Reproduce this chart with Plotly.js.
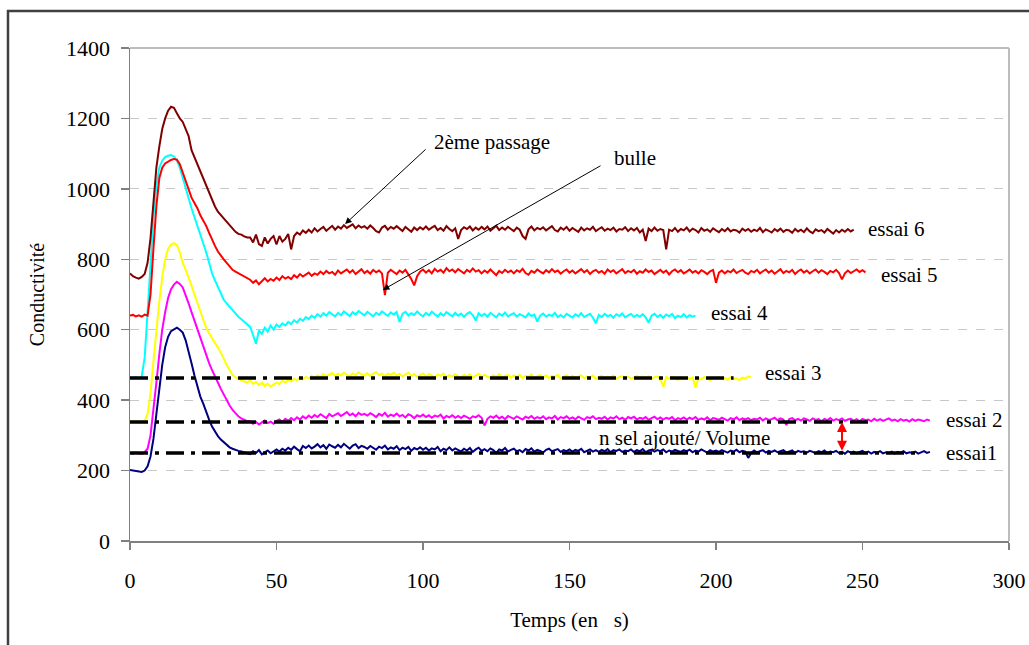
<!DOCTYPE html>
<html><head><meta charset="utf-8">
<script src="https://cdn.plot.ly/plotly-3.0.1.min.js"></script>
<style>html,body{margin:0;padding:0;background:#fff}#chart{width:1029px;height:645px}</style>
</head><body><div id="chart"></div>
<script>
// time step (s) of the sampled series; each series starts at t = 0
const STEP = 1;
const essai1 = [202,200,198,197,196,200,
212,240,290,360,430,500,550,580,596,602,606,600,592,570,540,
505,470,440,410,390,365,345,325,310,298,288,280,272,266,262,
258,256,254,252,250,
247,255,250,258,246,252,257,249,255,260,
254,262,257,265,259,268,261,255,270,264,
271,263,268,275,266,272,262,274,269,265,
273,266,276,268,262,271,275,264,270,267,
262,270,265,259,268,264,271,260,266,262,
269,258,265,261,267,256,264,260,266,259,
265,257,263,260,267,255,262,258,266,257,
263,259,254,262,257,264,253,260,265,256,
261,255,263,258,250,260,257,264,254,259,
262,255,258,252,261,257,263,254,259,256,
251,259,262,255,257,261,253,258,255,260,
254,259,256,262,252,257,260,254,258,253,
259,255,261,252,258,256,260,253,257,255,
260,253,258,255,261,252,257,259,254,258,
255,260,252,257,254,259,256,253,258,255,
259,252,257,254,260,255,251,258,254,257,
253,258,255,251,257,254,259,252,256,254,
236,250,257,252,255,258,251,256,253,257,
252,255,258,251,254,257,250,256,253,255,
251,256,253,249,255,252,257,250,254,252,
256,250,253,248,255,251,254,249,253,256,
250,254,248,253,251,255,249,252,250,254,
248,253,251,255,249,252,250,254,248,252,
255,250,253];
const essai2 = [250,248,251,249,247,252,
262,300,370,450,530,600,650,690,715,728,736,730,720,700,675,
650,625,600,575,550,525,505,485,465,450,432,415,400,385,372,
362,354,348,344,340,
340,333,338,331,337,342,335,339,333,341,
345,338,347,341,349,343,351,345,354,348,
356,350,358,352,360,355,349,361,354,358,
363,355,360,366,357,362,354,364,358,361,
356,363,358,352,361,356,364,353,359,355,
362,354,358,351,360,356,349,357,353,359,
352,357,350,356,353,359,348,355,351,357,
350,355,349,356,352,347,354,351,357,350,
328,347,354,350,356,348,353,346,355,351,
347,354,350,345,353,349,355,347,352,348,
354,346,351,348,355,345,352,349,354,347,
351,346,353,348,344,352,349,354,346,350,
347,353,345,351,348,354,346,350,344,352,
348,353,345,350,347,352,344,349,353,346,
351,345,350,347,352,343,349,346,351,345,
350,346,352,344,348,345,351,343,349,347,
344,350,346,342,349,345,351,343,348,345,
349,343,347,345,350,342,348,344,346,350,
343,348,345,329,346,349,343,347,342,348,
345,341,348,344,346,340,347,343,349,342,
346,343,348,341,345,347,342,346,340,347,
343,345,340,347,342,346,341,344,348,342,
345,340,346,342,344,339,346,341,345,343,
340,345,342];
const essai3 = [340,338,341,336,339,342,
360,420,510,600,680,750,800,830,842,846,840,820,790,770,750,
725,700,675,650,625,605,590,575,562,550,535,518,500,485,472,
465,460,456,453,450,
456,446,452,443,450,440,447,438,445,450,
446,455,450,458,453,461,456,464,459,466,
462,469,463,471,466,474,468,472,477,469,
475,470,478,472,468,476,471,479,473,470,
477,469,474,480,471,476,468,475,472,478,
470,475,467,473,478,469,474,466,472,476,
468,474,470,465,473,469,476,466,471,467,
474,468,465,472,467,473,464,470,475,466,
472,467,463,471,466,474,465,469,472,464,
470,466,472,463,469,467,473,462,468,471,
465,470,463,469,466,472,461,467,470,464,
469,463,468,471,462,467,465,470,460,466,
469,462,467,464,470,461,466,468,463,467,
461,466,469,462,467,463,468,460,465,467,
462,438,466,461,467,463,458,465,462,466,
460,465,435,463,459,466,461,457,464,460,
466,459,463,458,465,460,462,457,464,461,
467,465];
const essai4 = [465,463,466,462,468,
520,650,800,920,1010,1060,1080,1090,1094,1096,1092,1080,1060,1030,1000,970,
945,920,895,870,850,820,790,760,740,720,700,685,675,665,655,
645,637,630,622,615,
608,585,560,598,588,606,595,612,600,615,
608,618,612,622,616,627,620,631,625,636,
630,640,634,644,637,647,640,650,643,638,
648,641,652,645,639,650,643,653,646,641,
651,644,638,648,642,652,645,639,649,643,
650,622,645,651,640,647,642,652,644,638,
648,641,651,644,637,647,640,650,643,638,
648,640,646,636,645,650,641,626,647,639,
645,637,648,641,635,646,640,649,638,643,
647,637,644,640,635,646,639,643,623,640,
646,637,643,639,648,636,642,635,645,640,
635,644,638,647,636,641,645,634,618,642,
636,645,638,642,634,644,639,646,635,641,
645,636,642,637,644,635,620,640,645,636,
642,634,643,638,645,633,640,636,644,635,
641,637,640];
const essai5 = [640,642,638,641,637,643,640,
700,830,950,1030,1060,1072,1078,1082,1085,1083,1070,1045,1020,995,
975,960,945,925,910,895,875,855,838,822,810,800,790,780,770,
765,760,756,750,745,
742,733,740,729,738,746,737,744,739,748,
741,752,745,750,744,755,748,758,751,756,
762,753,760,756,765,758,767,760,764,756,
768,760,765,771,762,769,758,766,772,761,
767,759,770,763,768,760,698,762,770,764,
758,768,762,770,758,744,726,752,765,771,
762,769,760,773,765,770,762,775,766,771,
763,772,766,760,770,764,774,765,769,760,
768,762,771,764,755,767,761,770,763,768,
760,769,764,773,761,756,767,762,771,765,
760,769,763,772,764,768,759,766,771,762,
768,760,765,772,763,769,758,766,770,762,
767,759,771,764,769,760,766,772,761,767,
763,770,759,766,762,771,764,768,758,765,
770,762,768,757,766,771,763,769,760,765,
771,762,767,760,769,764,758,766,770,733,
762,768,760,767,763,771,761,766,770,762,
758,767,763,770,760,766,771,762,768,759,
766,772,761,767,763,770,758,766,771,762,
768,760,766,771,762,769,764,758,767,763,
770,761,743,760,768,761,766,771,764,769,
763];
const essai6 = [760,752,748,745,750,758,
790,860,960,1060,1120,1170,1200,1222,1233,1230,1215,1200,1190,1170,1150,
1110,1090,1065,1045,1025,1005,985,965,950,935,925,915,905,895,885,
878,872,870,865,862,
862,848,870,843,838,862,845,858,866,842,
866,850,858,872,828,866,876,870,882,875,
884,876,888,879,886,892,881,889,895,884,
893,887,897,889,894,899,888,896,890,894,
887,896,889,880,876,890,895,884,892,887,
894,886,880,892,885,878,890,883,891,885,
893,884,890,895,883,889,881,894,886,880,
888,858,883,891,886,893,882,890,884,892,
885,893,881,887,895,883,890,884,892,886,
880,890,884,866,858,885,893,882,889,885,
891,882,888,894,883,879,890,884,892,881,
889,883,878,890,882,888,884,892,880,886,
891,881,887,883,890,879,886,884,891,880,
888,882,889,876,884,852,887,880,890,881,
886,883,828,884,880,889,878,886,882,890,
879,887,883,876,889,881,885,878,888,882,
877,886,880,888,879,884,882,876,887,881,
886,878,884,880,889,877,885,881,876,886,
880,887,878,884,882,875,886,879,884,877,
888,879,874,885,880,883,876,886,879,873,
883,876,884,878,886,879,884];

const seriesNames = ['essai1','essai2','essai3','essai4','essai5','essai6'];
const seriesValues = [essai1, essai2, essai3, essai4, essai5, essai6];
const seriesColors = ['#000080','#FF00FF','#FFFF00','#00FFFF','#FF0000','#800000'];

// dash-dot reference levels (n sel ajouté / Volume)
const refLevels = [250, 338, 463];
const refEnds = [268, 253, 206];

// text labels
const labelTexts = ['essai1','essai 2','essai 3','essai 4','essai 5','essai 6','n sel ajouté/ Volume'];
const labelX = [277.8, 277.8, 216, 197.6, 255.6, 251.2, 159.4];
const labelY = [250, 344, 477, 648, 755, 886, 293];

const xTicks = [0,50,100,150,200,250,300];
const yTicks = [0,200,400,600,800,1000,1200,1400];

const FONT = 'Liberation Serif';

const traces = [];
seriesValues.forEach((vals, i) => {
  traces.push({
    x: vals.map((_, k) => k * STEP), y: vals, type: 'scatter', mode: 'lines',
    name: seriesNames[i], line: {color: seriesColors[i], width: 2}, hoverinfo: 'x+y'
  });
});
refLevels.forEach((lv, i) => {
  traces.push({
    x: [0, refEnds[i]], y: [lv, lv], type: 'scatter', mode: 'lines',
    line: {color: '#000000', width: 3.5, dash: '18px,7px,4px,7px'}, hoverinfo: 'skip'
  });
});

const annotations = labelTexts.map((t, i) => ({
  x: labelX[i], y: labelY[i], xref: 'x', yref: 'y', text: t, showarrow: false,
  xanchor: 'left', yanchor: 'middle', font: {family: FONT, size: 21, color: '#000'}
}));
annotations.push({x: 103.1, y: 1133, xref:'x', yref:'y', text:'2ème passage', showarrow:false,
  xanchor:'left', yanchor:'middle', font:{family:FONT, size:21, color:'#000'}});
annotations.push({x: 164.5, y: 1088, xref:'x', yref:'y', text:'bulle', showarrow:false,
  xanchor:'left', yanchor:'middle', font:{family:FONT, size:21, color:'#000'}});
annotations.push({x: 73.4, y: 900, ax: 101.4, ay: 1116, xref:'x', yref:'y', axref:'x', ayref:'y',
  text:'', showarrow:true, arrowhead:2, arrowsize:1.3, arrowwidth:1, arrowcolor:'#000'});
annotations.push({x: 86.3, y: 713, ax: 161.1, ay: 1068, xref:'x', yref:'y', axref:'x', ayref:'y',
  text:'', showarrow:true, arrowhead:2, arrowsize:1.3, arrowwidth:1, arrowcolor:'#000'});
annotations.push({x: 243, y: 338, ax: 243, ay: 252, xref:'x', yref:'y', axref:'x', ayref:'y',
  text:'', showarrow:true, arrowhead:2, arrowside:'end+start', arrowsize:1, arrowwidth:2, arrowcolor:'#FF0000'});

const layout = {
  width: 1029, height: 645,
  margin: {l: 130, r: 20, t: 48, b: 104, pad: 0},
  paper_bgcolor: '#fff', plot_bgcolor: '#fff',
  showlegend: false,
  font: {family: FONT, size: 21, color: '#000'},
  xaxis: {
    range: [0, 300], tickvals: xTicks, ticktext: xTicks.map(String),
    showgrid: false, zeroline: false, showline: true, linecolor: '#808080', linewidth: 1.5,
    ticks: 'outside', ticklen: 7, tickcolor: '#808080', tickwidth: 1.5,
    tickfont: {family: FONT, size: 22, color: '#000'}, ticklabelstandoff: 12,
    title: {text: 'Temps (en   s)', font: {family: FONT, size: 21, color: '#000'}, standoff: 20}
  },
  yaxis: {
    range: [0, 1400], tickvals: yTicks, ticktext: yTicks.map(String),
    showgrid: true, gridcolor: '#c8c8c8', griddash: 'dash', gridwidth: 1,
    zeroline: false, showline: true, linecolor: '#808080', linewidth: 1.5,
    ticks: 'outside', ticklen: 8, tickcolor: '#808080', tickwidth: 1.5,
    tickfont: {family: FONT, size: 22, color: '#000'}, ticklabelstandoff: 6,
    title: {text: 'Conductivité', font: {family: FONT, size: 20, color: '#000'}, standoff: 16}
  },
  annotations: annotations,
  shapes: [
    {type:'line', xref:'paper', yref:'paper', x0:0, x1:1, y0:1, y1:1, line:{color:'#bdbdbd', width:2}},
    {type:'line', xref:'paper', yref:'paper', x0:1, x1:1, y0:0, y1:1, line:{color:'#bdbdbd', width:2}},
    {type:'rect', xref:'paper', yref:'paper', x0:-0.1388, x1:1.05, y0:-0.3, y1:1.075, line:{color:'#404040', width:2.5}}
  ]
};

Plotly.newPlot('chart', traces, layout, {displayModeBar: false, staticPlot: true});
</script>
</body></html>
